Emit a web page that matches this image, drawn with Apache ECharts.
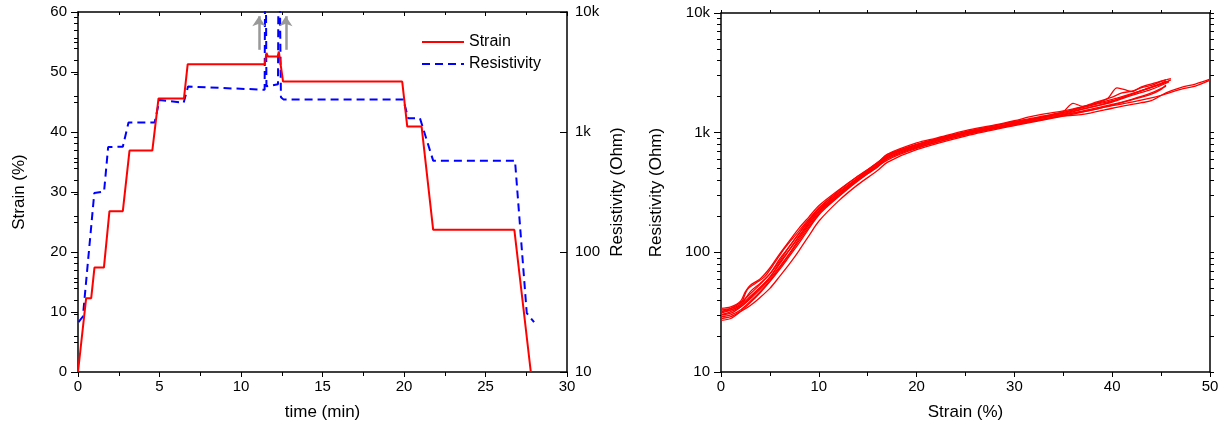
<!DOCTYPE html>
<html>
<head>
<meta charset="utf-8">
<script src="https://cdn.jsdelivr.net/npm/echarts@6/dist/echarts.min.js"></script>
<style>
html,body{margin:0;padding:0;background:#fff;}
#chart{width:1225px;height:431px;}
</style>
</head>
<body>
<div id="chart"></div>
<script>
// ---------- Left panel: strain & resistivity vs time ----------
const strainTime = [0, 0.5, 0.81, 1.01, 1.59, 1.93, 2.75, 3.16, 4.56, 4.94, 6.5, 6.73, 11.46, 11.56, 11.65, 12.25, 12.32, 12.58, 19.89, 20.2, 21.08, 21.79, 26.77, 27.78];
const strainValues = [0, 12.3, 12.3, 17.4, 17.4, 26.8, 26.8, 36.9, 36.9, 45.6, 45.6, 51.3, 51.3, 53.2, 52.6, 52.6, 53.4, 48.4, 48.4, 40.9, 40.9, 23.7, 23.7, 0];

const resTime = [0.03, 0.3, 1.0, 1.6, 1.85, 2.75, 3.1, 4.7, 5.0, 6.48, 6.75, 11.45, 11.5, 11.56, 12.27, 12.32, 12.45, 12.6, 19.95, 20.26, 20.98, 21.79, 26.81, 27.53, 27.98];
const resValues = [26, 29, 310, 320, 750, 755, 1200, 1200, 1850, 1750, 2390, 2250, 90000, 2400, 2500, 90000, 1950, 1870, 1870, 1300, 1300, 577, 577, 31, 26];

const arrowTimes = [11.1, 12.75];
const arrowStrainRange = [53.7, 59.3];

const timeTicks = [0, 5, 10, 15, 20, 25, 30];
const strainTicks = [0, 10, 20, 30, 40, 50, 60];
const resTickValues = [10, 100, 1000, 10000];
const resTickLabels = ['10', '100', '1k', '10k'];
const resMinorTicks = [20, 30, 40, 50, 60, 70, 80, 90, 200, 300, 400, 500, 600, 700, 800, 900, 2000, 3000, 4000, 5000, 6000, 7000, 8000, 9000];
const strainXTicks = [0, 10, 20, 30, 40, 50];

// ---------- Right panel: resistivity vs strain, cycles ----------
const cycle1Load = [[0,34],[1,35],[2,39],[2.5,47],[3,53],[4,60],[5,74],[6,97],[7,125],[8,160],[9,198],[10,245],[12,330],[14,432],[16,552],[17,655],[20,795],[25,1005],[28,1115],[30,1210],[32,1310],[34,1430],[35,1500],[36,1760],[37,1660],[38,1760],[40,1980],[41,2150],[42,2220],[43,2380],[44,2480],[45,2680],[46,2830]];
const cycle1Unload = [[46,2760],[45,2550],[43,2250],[40,1900],[37,1650],[35,1520],[32,1380],[30,1260],[28,1160],[25,1040],[22,900],[20,820],[17,660],[16,560],[14,435],[12,325],[10,235],[9,185],[8,145],[7,112],[6,85],[5,66],[4,54],[3,45],[2,38],[1,34],[0,32]];
const cycle2Load = [[0,33],[1,34],[2,37],[2.7,49],[3.5,55],[4.5,63],[5.5,82],[6.5,108],[8,152],[9,190],[10,234],[12,318],[14,418],[16,535],[17,635],[20,775],[25,990],[30,1185],[32,1285],[33.5,1370],[35,1470],[36.5,1600],[38,1730],[39.5,1920],[40.5,2370],[41.5,2260],[42,2200],[43,2420],[44.5,2620],[45.5,2780]];
const cycle2Unload = [[45.5,2700],[44,2400],[42,2100],[40,1850],[38,1700],[35,1480],[32,1330],[30,1240],[28,1140],[25,1020],[20,800],[17,640],[14,420],[12,310],[10,222],[9,178],[8,138],[7,105],[6,80],[5,62],[4,51],[3,43],[2,36],[1,33],[0,31]];
const cycle3Load = [[0,32],[1,33],[2,36],[3,47],[4,55],[5,66],[6,88],[7,112],[8,145],[9,183],[10,228],[12,310],[14,410],[16,525],[17,620],[20,760],[25,975],[30,1170],[33,1290],[35,1420],[37,1570],[39,1720],[41,1950],[42,2100],[43,2250],[44,2400],[45,2550],[45.8,2700]];
const cycle3Unload = [[45.8,2650],[44,2300],[42,2050],[40,1800],[38,1650],[35,1450],[32,1310],[30,1225],[27,1100],[25,1010],[20,790],[17,630],[14,410],[12,300],[10,215],[9,170],[8,130],[7,98],[6,76],[5,60],[4,49],[3,41],[2,35],[1,32],[0,30]];
const cycle4Load = [[0,28],[1,29],[2,32],[3,36],[4,42],[5,50],[6,63],[7,80],[8,104],[9,138],[10,182],[12,268],[14,368],[16,482],[17,565],[20,720],[25,935],[30,1145],[35,1375],[38,1550],[40,1700],[42,1880],[44,2100],[45,2300],[45.5,2500]];
const cycle4Unload = [[45.5,2450],[44,2150],[42,1900],[40,1720],[35,1400],[30,1160],[25,960],[20,740],[17,590],[14,395],[12,290],[10,205],[8,120],[7,93],[6,72],[5,57],[4,46],[3,38],[2,32],[1,28],[0,27]];
const cycle5Load = [[0,30],[1,31],[2,35],[3,42],[4,50],[5,62],[6,82],[7,105],[8,135],[9,175],[10,220],[12,300],[14,400],[16,515],[17,605],[20,750],[25,960],[30,1180],[35,1380],[37,1420],[40,1600],[43,1780],[44,1850],[45.5,2150],[47,2380],[48.5,2550],[50,2800]];
const cycle5Unload = [[50,2750],[48.5,2450],[47,2300],[45,2050],[44,1950],[42,1800],[40,1680],[37,1500],[35,1420],[30,1200],[25,990],[20,770],[17,610],[14,405],[12,295],[10,210],[8,125],[6,74],[5,58],[4,47],[3,39],[2,33],[1,30],[0,29]];

const cycles = [cycle1Load, cycle1Unload, cycle2Load, cycle2Unload, cycle3Load, cycle3Unload, cycle4Load, cycle4Unload, cycle5Load, cycle5Unload];

// ---------- build ----------
const FONT = 'Liberation Sans, Arial, Helvetica, sans-serif';
const BLACK = '#000';
function zip(xs, ys) { return xs.map((x, i) => [x, ys[i]]); }
function resLabel(v) {
  const i = resTickValues.indexOf(Math.round(v));
  return i >= 0 ? resTickLabels[i] : '';
}
const axisLine = { show: true, onZero: false, lineStyle: { color: BLACK, width: 1.5 } };
const labelStyle = { color: BLACK, fontSize: 15, fontFamily: FONT };
const nameStyle = { color: BLACK, fontSize: 17, fontFamily: FONT };

const chart = echarts.init(document.getElementById('chart'), null, { renderer: 'canvas' });

const option = {
  animation: false,
  backgroundColor: '#fff',
  textStyle: { fontFamily: FONT },
  grid: [
    { left: 78, top: 12, width: 489, height: 360 },
    { left: 721, top: 13, width: 489, height: 359 }
  ],
  legend: {
    data: ['Strain', 'Resistivity'],
    left: 416, top: 29, orient: 'vertical',
    itemWidth: 42, itemHeight: 12, itemGap: 6,
    itemStyle: { opacity: 0 },
    textStyle: { color: BLACK, fontSize: 16, fontFamily: FONT }
  },
  xAxis: [
    { gridIndex: 0, type: 'value', position: 'bottom', min: 0, max: 30, interval: 5,
      axisLine: axisLine, splitLine: { show: false },
      axisTick: { show: true, length: 5, lineStyle: { color: BLACK, width: 1 } },
      minorTick: { show: true, splitNumber: 2, length: 4, lineStyle: { color: BLACK, width: 1 } },
      axisLabel: Object.assign({ margin: 7, formatter: v => timeTicks.includes(v) ? String(v) : '' }, labelStyle),
      name: 'time (min)', nameLocation: 'middle', nameGap: 32, nameTextStyle: nameStyle },
    { gridIndex: 0, type: 'value', position: 'top', min: 0, max: 30, interval: 5,
      axisLine: axisLine, splitLine: { show: false },
      axisTick: { show: true, inside: true, length: 4, lineStyle: { color: BLACK, width: 1 } },
      minorTick: { show: true, splitNumber: 2, length: 3, lineStyle: { color: BLACK, width: 1 } },
      axisLabel: { show: false } },
    { gridIndex: 1, type: 'value', position: 'bottom', min: 0, max: 50, interval: 10,
      axisLine: axisLine, splitLine: { show: false },
      axisTick: { show: true, length: 5, lineStyle: { color: BLACK, width: 1 } },
      minorTick: { show: true, splitNumber: 2, length: 4, lineStyle: { color: BLACK, width: 1 } },
      axisLabel: Object.assign({ margin: 7, formatter: v => strainXTicks.includes(v) ? String(v) : '' }, labelStyle),
      name: 'Strain (%)', nameLocation: 'middle', nameGap: 32, nameTextStyle: nameStyle },
    { gridIndex: 1, type: 'value', position: 'top', min: 0, max: 50, interval: 5,
      axisLine: axisLine, splitLine: { show: false },
      axisTick: { show: true, length: 3, lineStyle: { color: BLACK, width: 1 } },
      axisLabel: { show: false } }
  ],
  yAxis: [
    { gridIndex: 0, type: 'value', position: 'left', min: 0, max: 60, interval: 10,
      axisLine: axisLine, splitLine: { show: false },
      axisTick: { show: true, length: 7, lineStyle: { color: BLACK, width: 1 } },
      minorTick: { show: true, splitNumber: 2, length: 4, lineStyle: { color: BLACK, width: 1 } },
      axisLabel: Object.assign({ margin: 11, formatter: v => strainTicks.includes(v) ? String(v) : '' }, labelStyle),
      name: 'Strain (%)', nameLocation: 'middle', nameGap: 50, nameTextStyle: nameStyle },
    { gridIndex: 0, type: 'log', logBase: 10, position: 'right', min: 10, max: 10000,
      axisLine: axisLine, splitLine: { show: false },
      axisTick: { show: true, inside: true, length: 7, lineStyle: { color: BLACK, width: 1 } },
      axisLabel: Object.assign({ margin: 8, formatter: resLabel }, labelStyle),
      name: 'Resistivity (Ohm)', nameLocation: 'middle', nameGap: 42, nameTextStyle: nameStyle },
    { gridIndex: 0, type: 'log', logBase: 10, position: 'right', min: 10, max: 10000,
      axisLine: { show: false }, splitLine: { show: false }, axisLabel: { show: false },
      axisTick: { show: true, inside: true, length: 4, customValues: resMinorTicks, lineStyle: { color: BLACK, width: 1 } } },
    { gridIndex: 1, type: 'log', logBase: 10, position: 'left', min: 10, max: 10000,
      axisLine: axisLine, splitLine: { show: false },
      axisTick: { show: true, length: 7, lineStyle: { color: BLACK, width: 1 } },
      axisLabel: Object.assign({ margin: 11, formatter: resLabel }, labelStyle),
      name: 'Resistivity (Ohm)', nameLocation: 'middle', nameGap: 56, nameTextStyle: nameStyle },
    { gridIndex: 1, type: 'log', logBase: 10, position: 'left', min: 10, max: 10000,
      axisLine: { show: false }, splitLine: { show: false }, axisLabel: { show: false },
      axisTick: { show: true, length: 4, customValues: resMinorTicks, lineStyle: { color: BLACK, width: 1 } } },
    { gridIndex: 1, type: 'log', logBase: 10, position: 'right', min: 10, max: 10000,
      axisLine: axisLine, splitLine: { show: false }, axisLabel: { show: false },
      axisTick: { show: true, length: 4, customValues: resTickValues.concat(resMinorTicks), lineStyle: { color: BLACK, width: 1 } } }
  ],
  series: [
    { name: 'Strain', type: 'line', xAxisIndex: 0, yAxisIndex: 0, showSymbol: false, symbol: 'none',
      data: zip(strainTime, strainValues), color: '#ff0000',
      lineStyle: { color: '#ff0000', width: 2 }, z: 3,
      markLine: {
        silent: true, symbol: ['none', 'arrow'], symbolSize: [10, 10], animation: false,
        label: { show: false },
        lineStyle: { color: '#999999', width: 2.5, type: 'solid' },
        emphasis: { disabled: true },
        data: arrowTimes.map(t => [{ coord: [t, arrowStrainRange[0]] }, { coord: [t, arrowStrainRange[1]] }])
      } },
    { name: 'Resistivity', type: 'line', xAxisIndex: 0, yAxisIndex: 1, showSymbol: false, symbol: 'none',
      data: zip(resTime, resValues), color: '#0000ff', clip: true,
      lineStyle: { color: '#0000ff', width: 2, type: [8, 5] }, z: 2 }
  ].concat(cycles.map((c, i) => ({
    name: 'cycle' + i, type: 'line', xAxisIndex: 2, yAxisIndex: 3, showSymbol: false, symbol: 'none',
    smooth: 0.3, data: c, lineStyle: { color: '#ff0000', width: 1.3 }, color: '#ff0000'
  })))
};
chart.setOption(option);
</script>
</body>
</html>
